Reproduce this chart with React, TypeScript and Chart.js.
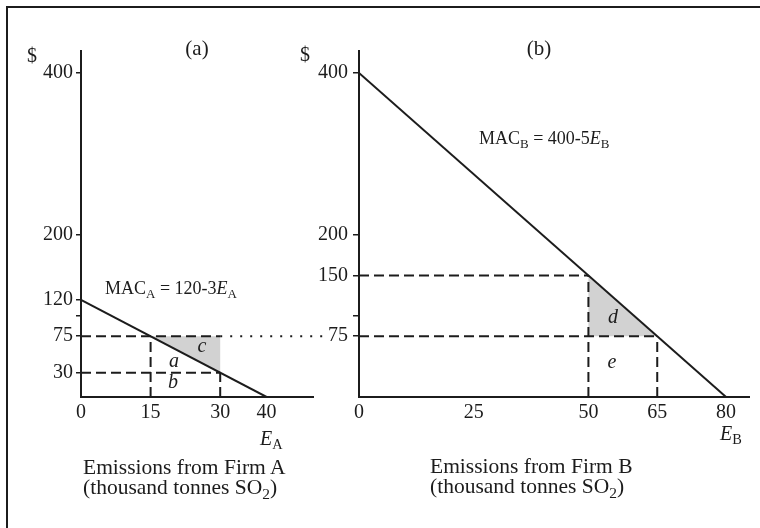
import React, { useEffect, useRef } from "react";
import { Chart, registerables } from "chart.js";
Chart.register(...registerables);

const FONT = '"Liberation Serif", "Times New Roman", Times, serif';
const INK = "#1c1c1c";
const SHADE = "#d2d2d2";

// ---------- Panel (a): Firm A ----------
const macAEmissions = [0, 40];
const macAPrices = [120, 0];
const aPermitEmissions = [15, 30];
const aPermitPrices = [75, 30];
const aShadeEmissions = [15, 30, 30, 15];
const aShadePrices = [75, 75, 30, 75];
const dottedEmissions = [30, 52.5];
const dottedPrices = [75, 75];
const aXTicks = [0, 15, 30, 40];
const aYTicks = [30, 75, 100, 120, 200, 400];
const aXMax = 50;

// ---------- Panel (b): Firm B ----------
const macBEmissions = [0, 80];
const macBPrices = [400, 0];
const bPermitEmissions = [50, 65];
const bPermitPrices = [150, 75];
const bShadeEmissions = [50, 50, 65, 50];
const bShadePrices = [150, 75, 75, 150];
const bXTicks = [0, 25, 50, 65, 80];
const bYTicks = [75, 100, 150, 200, 400];
const bXMax = 85;

const unlabeledYTicks = [100];
const yMax = 427;

const pts = (xs: number[], ys: number[]) => xs.map((x, i) => ({ x, y: ys[i] }));

function lineDs(data: { x: number; y: number }[], extra: any = {}) {
  return {
    type: "line" as const,
    data,
    showLine: true,
    pointRadius: 0,
    borderColor: INK,
    borderWidth: 2,
    fill: false,
    tension: 0,
    ...extra,
  };
}

function dashedGuides(es: number[], ps: number[], hEnd: number[]) {
  const out: any[] = [];
  es.forEach((e, i) => {
    out.push(lineDs(pts([0, hEnd[i]], [ps[i], ps[i]]), { borderDash: [10, 5] }));
    out.push(lineDs(pts([e, e], [0, ps[i]]), { borderDash: [10, 5] }));
  });
  return out;
}

function makeOptions(cfg: {
  padLeft: number;
  padRight: number;
  xMax: number;
  xTicks: number[];
  yTicks: number[];
  tickLen: number;
  labelPad: number;
}) {
  return {
    responsive: false,
    maintainAspectRatio: false,
    animation: false as const,
    events: [],
    layout: { padding: { left: cfg.padLeft, right: cfg.padRight, top: 51, bottom: 91 } },
    plugins: { legend: { display: false }, tooltip: { enabled: false }, title: { display: false } },
    scales: {
      x: {
        type: "linear" as const,
        min: 0,
        max: cfg.xMax,
        afterBuildTicks: (s: any) => {
          s.ticks = cfg.xTicks.map((v) => ({ value: v }));
        },
        afterFit: (s: any) => {
          s.height = 40;
        },
        grid: { display: false, drawTicks: false },
        border: { display: true, color: INK, width: 2 },
        ticks: {
          autoSkip: false,
          maxRotation: 0,
          padding: 4,
          color: INK,
          font: { family: FONT, size: 20 },
          callback: (v: any) => String(v),
        },
      },
      y: {
        type: "linear" as const,
        position: "left" as const,
        min: 0,
        max: yMax,
        afterBuildTicks: (s: any) => {
          s.ticks = cfg.yTicks.map((v) => ({ value: v }));
        },
        afterFit: (s: any) => {
          s.width = 50;
        },
        grid: { drawOnChartArea: false, drawTicks: true, tickLength: cfg.tickLen, color: INK, lineWidth: 1.5 },
        border: { display: true, color: INK, width: 2 },
        ticks: {
          autoSkip: false,
          padding: cfg.labelPad,
          color: INK,
          font: { family: FONT, size: 20 },
          callback: (v: any) => (unlabeledYTicks.includes(Number(v)) ? "" : String(v)),
        },
      },
    },
  };
}

const W = 760;
const H = 528;

function Txt(props: {
  x: number;
  y: number;
  size?: number;
  italic?: boolean;
  align?: "center" | "left";
  children: React.ReactNode;
}) {
  const { x, y, size = 20, italic = false, align = "center", children } = props;
  return (
    <div
      style={{
        position: "absolute",
        left: x,
        top: y,
        transform: align === "center" ? "translate(-50%, -50%)" : "translate(0, -50%)",
        fontFamily: FONT,
        fontSize: size,
        fontStyle: italic ? "italic" : "normal",
        lineHeight: 1,
        whiteSpace: "nowrap",
        color: INK,
      }}
    >
      {children}
    </div>
  );
}

const Sub = ({ children }: { children: React.ReactNode }) => (
  <span style={{ fontSize: "0.72em", position: "relative", top: "0.3em", fontStyle: "normal" }}>{children}</span>
);
const It = ({ children }: { children: React.ReactNode }) => <span style={{ fontStyle: "italic" }}>{children}</span>;

export default function App() {
  const refA = useRef<HTMLCanvasElement | null>(null);
  const refB = useRef<HTMLCanvasElement | null>(null);

  useEffect(() => {
    const chartA = new Chart(refA.current as HTMLCanvasElement, {
      type: "scatter",
      data: {
        datasets: [
          lineDs(pts(macAEmissions, macAPrices)),
          ...dashedGuides(aPermitEmissions, aPermitPrices, [30, 30]),
          lineDs(pts(dottedEmissions, dottedPrices), { borderDash: [2, 8], clip: false }),
          lineDs(pts(aShadeEmissions, aShadePrices), {
            borderWidth: 0,
            fill: "shape",
            backgroundColor: SHADE,
          }),
        ],
      },
      options: makeOptions({
        padLeft: 31,
        padRight: W - 313,
        xMax: aXMax,
        xTicks: aXTicks,
        yTicks: aYTicks,
        tickLen: 5,
        labelPad: 3,
      }) as any,
    });
    const chartB = new Chart(refB.current as HTMLCanvasElement, {
      type: "scatter",
      data: {
        datasets: [
          lineDs(pts(macBEmissions, macBPrices)),
          ...dashedGuides(bPermitEmissions, bPermitPrices, [50, 65]),
          lineDs(pts(bShadeEmissions, bShadePrices), {
            borderWidth: 0,
            fill: "shape",
            backgroundColor: SHADE,
          }),
        ],
      },
      options: makeOptions({
        padLeft: 309,
        padRight: W - 749,
        xMax: bXMax,
        xTicks: bXTicks,
        yTicks: bYTicks,
        tickLen: 6,
        labelPad: 5,
      }) as any,
    });
    return () => {
      chartA.destroy();
      chartB.destroy();
    };
  }, []);

  const canvasStyle: React.CSSProperties = { position: "absolute", left: 0, top: 0, width: W, height: H };

  return (
    <div style={{ position: "absolute", left: 0, top: 0, width: W, height: H, background: "#fff", overflow: "hidden" }}>
      {/* frame */}
      <div style={{ position: "absolute", left: 6, top: 6, width: W, height: 2, background: INK }} />
      <div style={{ position: "absolute", left: 6, top: 6, width: 2, height: H, background: INK }} />

      <canvas ref={refA} width={W} height={H} style={canvasStyle} />
      <canvas ref={refB} width={W} height={H} style={canvasStyle} />

      {/* panel (a) texts */}
      <Txt x={32} y={55}>$</Txt>
      <Txt x={197} y={48} size={21}>(a)</Txt>
      <Txt x={105} y={288} size={18} align="left">
        MAC<Sub>A</Sub> = 120-3<It>E</It>
        <Sub>A</Sub>
      </Txt>
      <Txt x={202} y={345} italic>c</Txt>
      <Txt x={174} y={360} italic>a</Txt>
      <Txt x={173} y={381} italic>b</Txt>
      <Txt x={260} y={438} align="left">
        <It>E</It>
        <Sub>A</Sub>
      </Txt>
      <Txt x={83} y={468} size={21.5} align="left">Emissions from Firm A</Txt>
      <Txt x={83} y={488} size={21.5} align="left">
        (thousand tonnes SO<Sub>2</Sub>)
      </Txt>

      {/* panel (b) texts */}
      <Txt x={305} y={54}>$</Txt>
      <Txt x={539} y={48} size={21}>(b)</Txt>
      <Txt x={479} y={138} size={18} align="left">
        MAC<Sub>B</Sub> = 400-5<It>E</It>
        <Sub>B</Sub>
      </Txt>
      <Txt x={613} y={316} italic>d</Txt>
      <Txt x={612} y={361} italic>e</Txt>
      <Txt x={720} y={433} align="left">
        <It>E</It>
        <Sub>B</Sub>
      </Txt>
      <Txt x={430} y={467} size={21.5} align="left">Emissions from Firm B</Txt>
      <Txt x={430} y={487} size={21.5} align="left">
        (thousand tonnes SO<Sub>2</Sub>)
      </Txt>
    </div>
  );
}
